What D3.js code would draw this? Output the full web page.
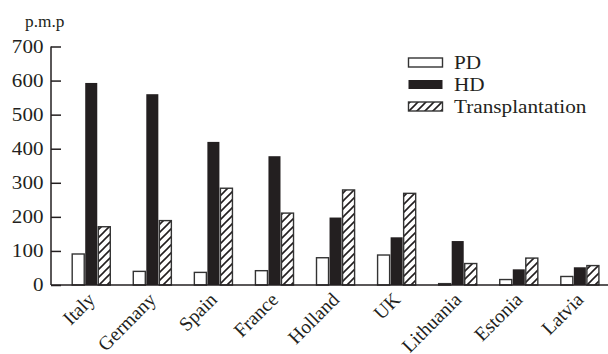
<!DOCTYPE html>
<html><head><meta charset="utf-8">
<script src="https://cdn.jsdelivr.net/npm/d3@7"></script>
<style>body{margin:0;background:#fff}svg{display:block}text{font-family:"Liberation Serif","DejaVu Serif",serif;fill:#231f20}</style>
</head><body>
<svg id="c" width="608" height="354"></svg>
<script>
const categories = ["Italy","Germany","Spain","France","Holland","UK","Lithuania","Estonia","Latvia"];
const seriesNames = ["PD","HD","Transplantation"];
const pd = [91, 40, 37, 42, 80, 88, 4, 16, 25];
const hd = [593, 560, 420, 378, 198, 140, 129, 46, 52];
const tx = [171, 189, 284, 211, 279, 269, 63, 79, 57];
const yTicks = [0,100,200,300,400,500,600,700];

const svg = d3.select("#c");
const ink = "#231f20";
const defs = svg.append("defs");
const pat = defs.append("pattern").attr("id","hatch").attr("patternUnits","userSpaceOnUse")
  .attr("width",8).attr("height",8);
pat.append("rect").attr("width",8).attr("height",8).attr("fill","#fff");
pat.append("path").attr("d","M-2,10 L10,-2 M-2,2 L2,-2 M6,10 L10,6").attr("stroke",ink).attr("stroke-width",1.6);

const x0 = 51, y0 = 285;
const x = d3.scaleBand().domain(categories).range([60.7, 610.4]).paddingInner(0.36).paddingOuter(0.18);
const xs = d3.scaleBand().domain(seriesNames).range([0, x.bandwidth()]);
const y = d3.scaleLinear().domain([0,700]).range([y0, 46.5]);

const fills = {PD:"#fff", HD:ink, Transplantation:"url(#hatch)"};
const data = categories.map((c,i)=>({c, vals:[pd[i],hd[i],tx[i]]}));

const g = svg.append("g");
data.forEach(d=>{
  d.vals.forEach((v,j)=>{
    const s = seriesNames[j];
    g.append("rect")
      .attr("x", x(d.c)+xs(s)+0.5)
      .attr("y", y(v))
      .attr("width", xs.bandwidth()-1)
      .attr("height", y0 - y(v))
      .attr("fill", fills[s])
      .attr("stroke", s==="HD" ? "none" : "#333")
      .attr("stroke-width", 1.4);
  });
});

// y axis
const ya = svg.append("g").attr("transform",`translate(${x0},0)`)
  .call(d3.axisRight(y).tickValues(yTicks).tickSize(10).tickFormat(""));
ya.select(".domain").attr("stroke",ink).attr("stroke-width",1.5).attr("d",`M0,${y0}V${y(700)}`);
ya.selectAll(".tick line").attr("stroke",ink).attr("stroke-width",1.5);
svg.append("g").selectAll("text").data(yTicks).join("text")
  .attr("transform",d=>`translate(43.5,${y(d)}) scale(1.14,1)`)
  .attr("dy","0.35em").attr("text-anchor","end")
  .attr("font-size",18.5).text(d=>d);

svg.append("text").attr("transform","translate(25,27) scale(1.08,1)").attr("font-size",16).text("p.m.p");

// x axis
const xa = svg.append("g").attr("transform",`translate(0,${y0})`)
  .call(d3.axisBottom(x).tickSize(0).tickFormat(""));
xa.select(".domain").attr("stroke",ink).attr("stroke-width",1.5).attr("d",`M${x0},0H608`);
svg.append("g").selectAll("text").data(categories).join("text")
  .attr("text-anchor","end").attr("font-size",19.5)
  .attr("transform",d=>`translate(${x(d)+x.bandwidth()/2},${y0+11}) rotate(-45)`)
  .attr("dy","0.35em").text(d=>d);

// legend
const lg = svg.append("g");
seriesNames.forEach((s,i)=>{
  const yy = 58 + i*22;
  lg.append("rect").attr("x",408.5).attr("y",yy).attr("width",34).attr("height",9)
    .attr("fill", fills[s]).attr("stroke", s==="HD"?"none":"#333").attr("stroke-width",1.4);
  lg.append("text").attr("transform",`translate(454,${yy+4.5}) scale(1.18,1)`)
    .attr("dy","0.35em").attr("font-size",18).text(s);
});
</script>
</body></html>
